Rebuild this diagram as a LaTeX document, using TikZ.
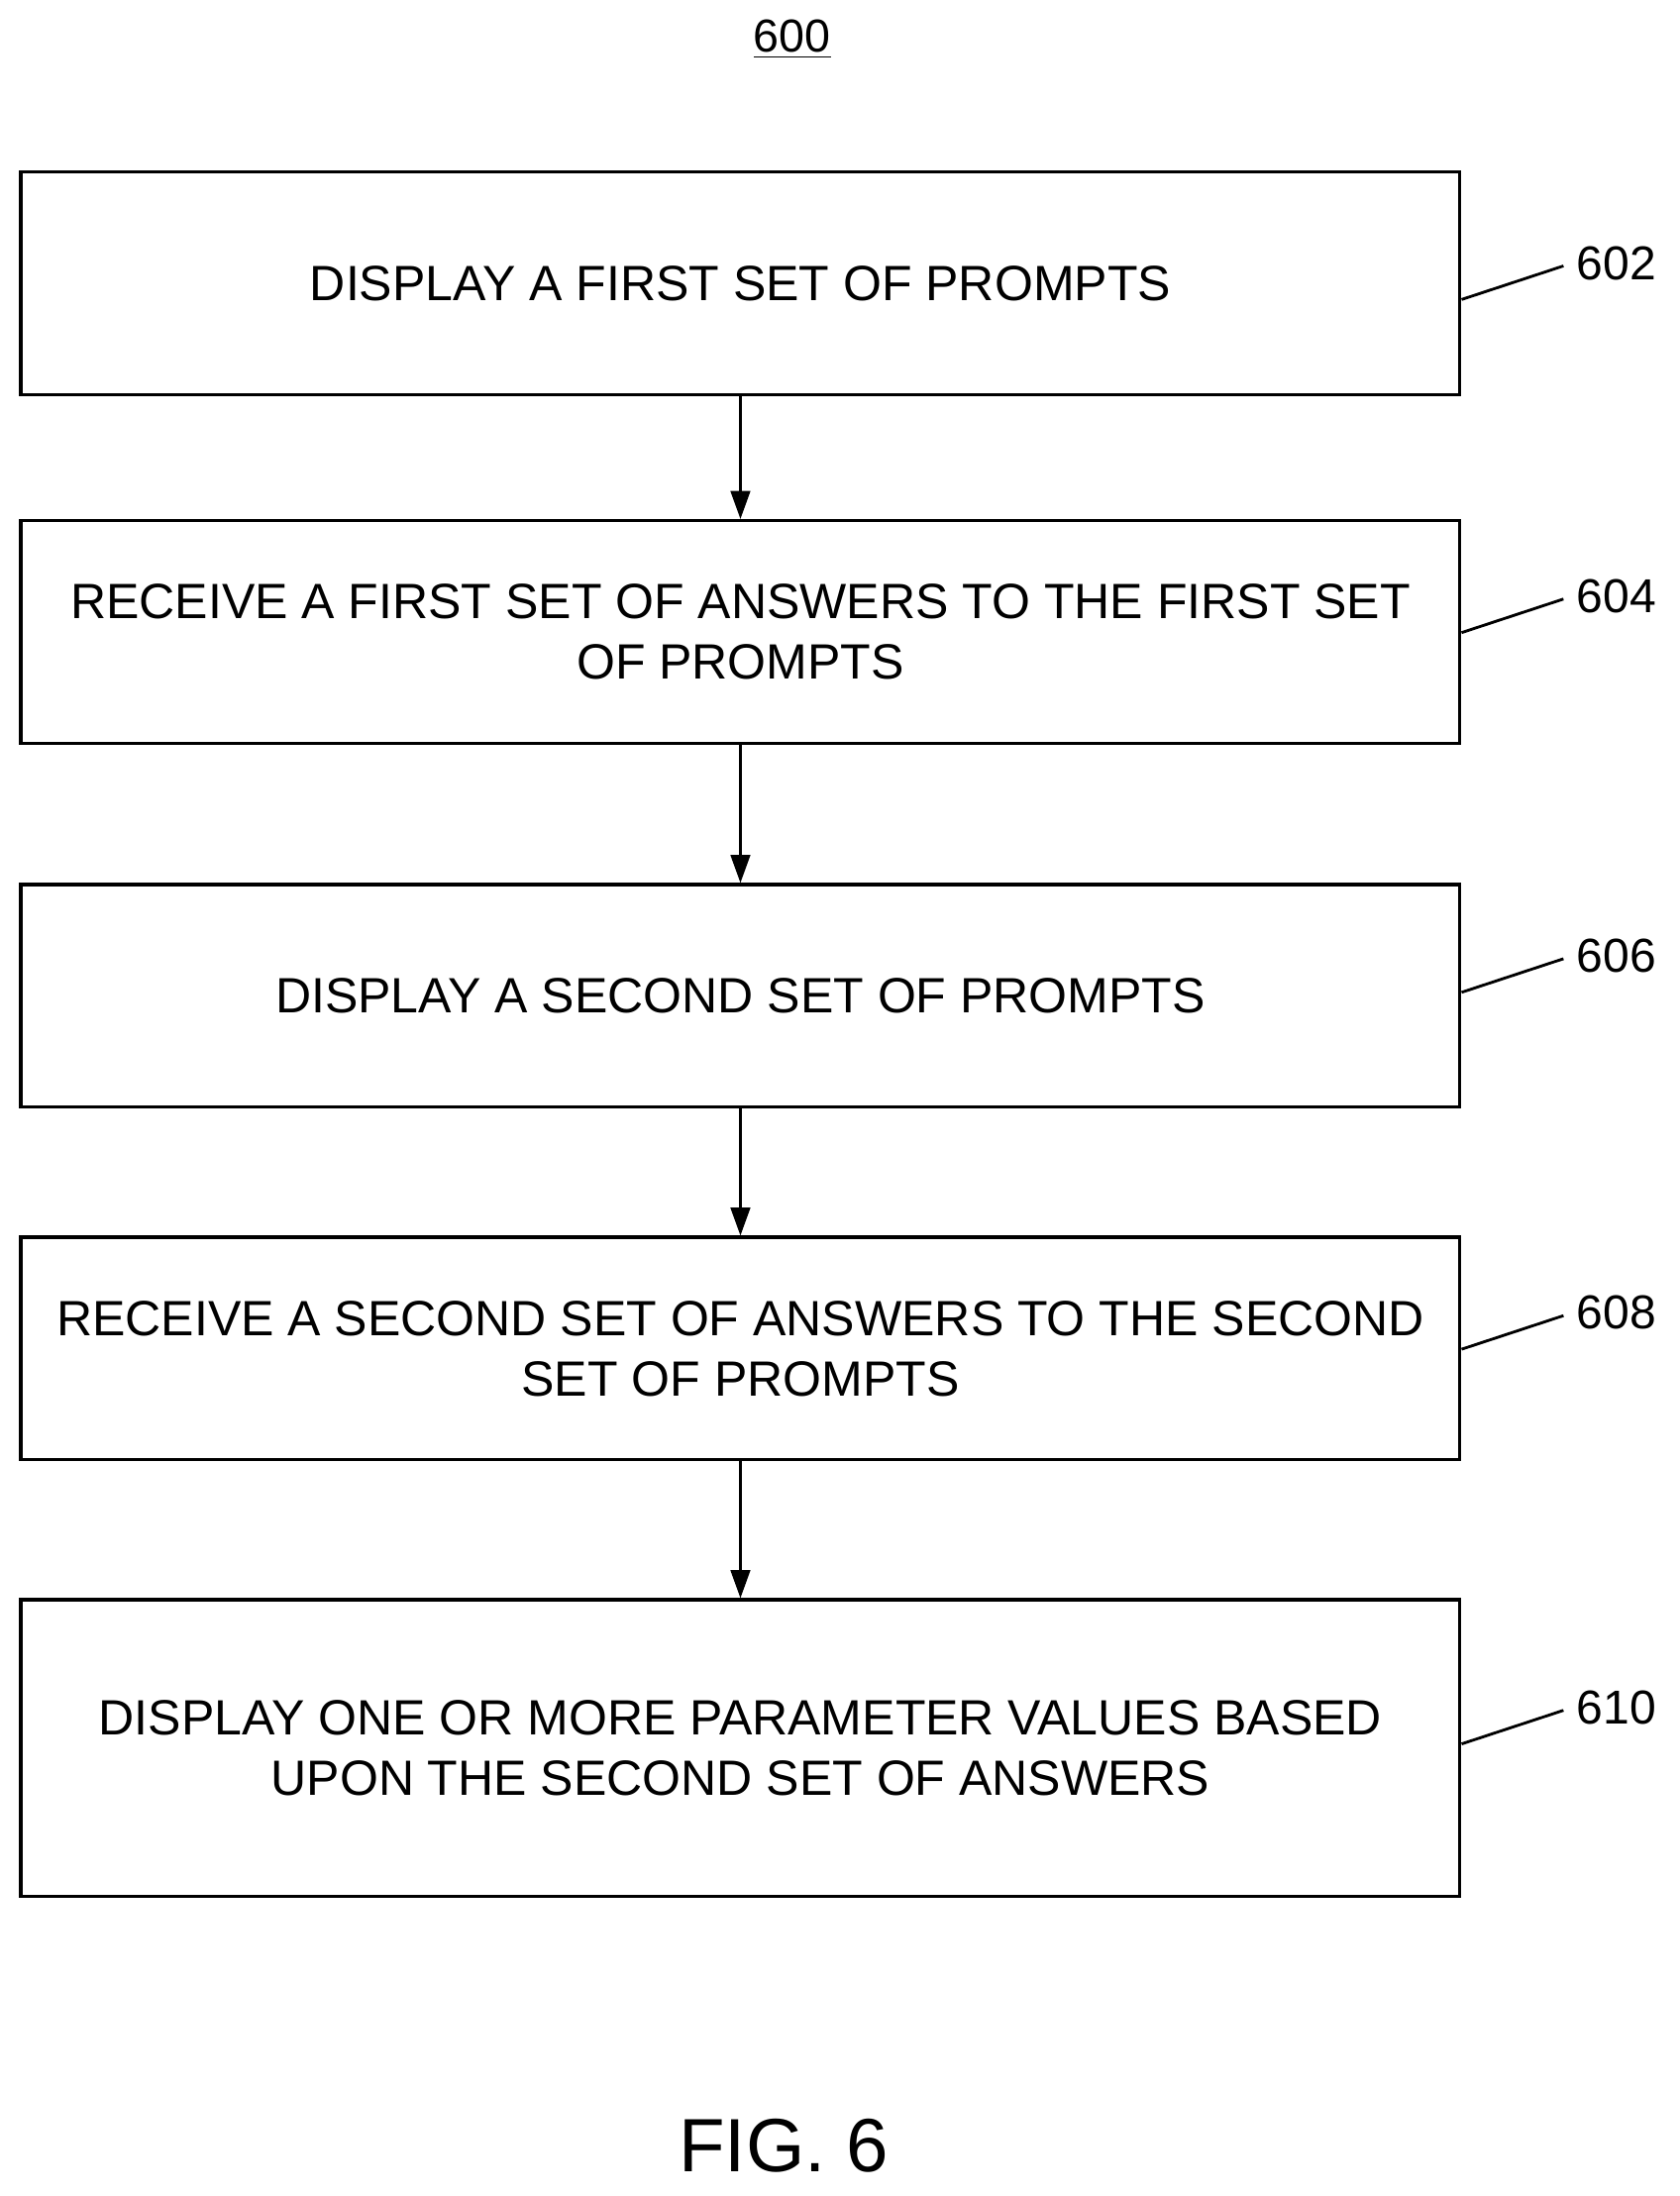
\documentclass[tikz,border=0pt]{standalone}
\usepackage{fontspec}
\setmainfont{Liberation Sans}
\usetikzlibrary{arrows.meta}
\begin{document}
\begin{tikzpicture}[x=0.5pt,y=-0.5pt,
  box/.style={draw,line width=1.2pt,minimum width=514pt,align=center,font=\fontsize{17.7}{21.5}\selectfont},
  arr/.style={-{Triangle[length=10pt,width=7pt]},line width=0.8pt},
  lead/.style={line width=1pt},
  lbl/.style={font=\fontsize{17}{19}\selectfont,anchor=west,inner sep=1pt}]
\useasboundingbox (0,0) rectangle (1200,1569);
\node (t) at (566,28) {\fontsize{16.5}{18}\selectfont\underline{600}};
\node[box,minimum height=79.5pt] (b1) at (529,202.5) {DISPLAY A FIRST SET OF PROMPTS};
\node[box,minimum height=79.5pt] (b2) at (529,451.5) {RECEIVE A FIRST SET OF ANSWERS TO THE FIRST SET\\OF PROMPTS};
\node[box,minimum height=79.5pt] (b3) at (529,711.5) {DISPLAY A SECOND SET OF PROMPTS};
\node[box,minimum height=79.5pt] (b4) at (529,963.5) {RECEIVE A SECOND SET OF ANSWERS TO THE SECOND\\SET OF PROMPTS};
\node[box,minimum height=106pt] (b5) at (529,1249) {DISPLAY ONE OR MORE PARAMETER VALUES BASED\\UPON THE SECOND SET OF ANSWERS};
\draw[arr] (b1) -- (b2);
\draw[arr] (b2) -- (b3);
\draw[arr] (b3) -- (b4);
\draw[arr] (b4) -- (b5);
\foreach \b/\n/\y in {b1/602/190,b2/604/428,b3/606/685,b4/608/940,b5/610/1222}{
  \coordinate (c\n) at (1117,\y);
  \node[lbl] (l\n) at (1124,\y-2) {\n};
  \draw[lead] (\b.east |- 0,\y+24) -- (c\n);
}
\node (fig) at (560,1533) {\fontsize{27}{30}\selectfont FIG. 6};
\end{tikzpicture}
\end{document}
